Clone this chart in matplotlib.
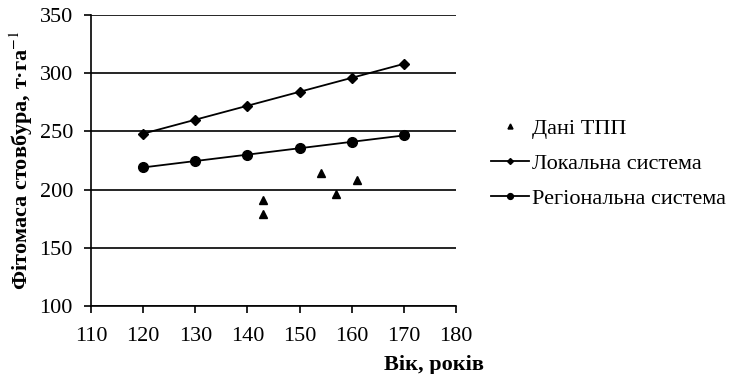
import matplotlib
matplotlib.use("Agg")
import matplotlib.pyplot as plt

plt.rcParams['font.family'] = ['Liberation Serif', 'DejaVu Serif']
plt.rcParams['mathtext.fontset'] = 'stix'

ages = [120, 130, 140, 150, 160, 170]
local_sys = [248, 260, 272, 284, 296, 308]
regional_sys = [219, 224.5, 230, 235.5, 241, 246.5]
tpp_x = [143, 143, 154, 157, 161]
tpp_y = [191, 179, 214, 196, 208.5]

fig = plt.figure(figsize=(7.31, 3.74), dpi=100)
ax = fig.add_axes([0.1245, 0.182, 0.4995, 0.778])

ax.plot(tpp_x, tpp_y, linestyle='none', marker='^', color='black', markersize=6, label='Дані ТПП')
ax.plot(ages, local_sys, color='black', lw=1.3, marker='D', markersize=5, label='Локальна система')
ax.plot(ages, regional_sys, color='black', lw=1.3, marker='o', markersize=7, label='Регіональна система')

ax.set_xlim(110, 180)
ax.set_ylim(100, 350)
ax.set_xticks(range(110, 181, 10))
ax.set_yticks(range(100, 351, 50))
ax.yaxis.grid(True, color='black', lw=1.2)
ax.set_axisbelow(True)
for s in ['top', 'right']:
    ax.spines[s].set_visible(False)
ax.spines['left'].set_linewidth(1.2)
ax.spines['bottom'].set_linewidth(1.2)
ax.tick_params(axis='both', direction='out', length=5, width=1.2, labelsize=16, colors='black')
ax.tick_params(axis='x', pad=10)
ax.tick_params(axis='y', pad=8)

ax.set_ylabel('Фітомаса стовбура, т·га$^{-1}$', fontsize=16, fontweight='bold')
ax.yaxis.set_label_coords(-0.154, 0.5)
ax.set_xlabel('Вік, років', fontsize=16, fontweight='bold')
ax.xaxis.set_label_coords(0.94, -0.17)

leg = fig.legend(loc='center left', bbox_to_anchor=(0.672, 0.563), frameon=False,
                 fontsize=16, handlelength=1.7, handletextpad=0.15, labelspacing=0.65,
                 markerscale=0.6, borderpad=0, borderaxespad=0)
fig.savefig('out.png', dpi=100)
